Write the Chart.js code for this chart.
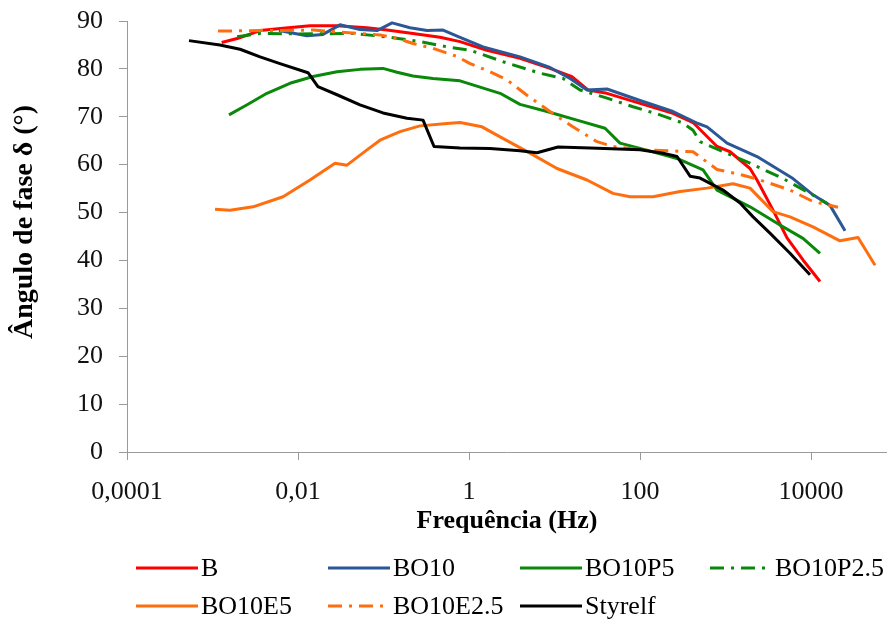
<!DOCTYPE html>
<html>
<head>
<meta charset="utf-8">
<script src="https://cdn.jsdelivr.net/npm/chart.js@4.4.0/dist/chart.umd.min.js"></script>
<style>
  html, body { margin: 0; padding: 0; background: #fff; }
  #wrap { width: 887px; height: 620px; }
</style>
</head>
<body>
<div id="wrap"><canvas id="chart" width="887" height="620"></canvas></div>
<script>
// frequência (Hz) e ângulo de fase (°) de cada amostra
const freqB = [0.00128, 0.00199, 0.0036, 0.00669, 0.0138, 0.0286, 0.0641, 0.110, 0.221, 0.458, 0.785, 1.62, 3.95, 8.85, 16.0, 24.6, 41.1, 100, 243, 417, 796, 1130, 1935, 2335, 3594, 5240, 8060, 12740];
const phaseB = [85.5, 86.4, 88.0, 88.5, 89.0, 89.0, 88.6, 88.1, 87.4, 86.6, 85.7, 83.9, 82.2, 80.1, 78.4, 75.6, 74.9, 72.8, 70.7, 68.8, 63.8, 62.7, 59.2, 56.8, 50.5, 44.7, 40.1, 35.6];

const freqBO10 = [0.0060, 0.0127, 0.0196, 0.0310, 0.0531, 0.0839, 0.126, 0.204, 0.323, 0.497, 0.785, 1.46, 3.95, 8.85, 15.2, 24.0, 41.1, 100, 243, 476, 608, 1042, 2335, 6150, 10550, 16680, 25000];
const phaseBO10 = [88.0, 86.9, 87.2, 89.2, 88.2, 88.0, 89.6, 88.6, 88.0, 88.1, 86.6, 84.6, 82.5, 80.3, 78.0, 75.6, 75.8, 73.4, 71.1, 68.6, 67.9, 64.5, 61.7, 57.1, 53.7, 51.5, 46.2];

const freqP5 = [0.00156, 0.00254, 0.00433, 0.00805, 0.0150, 0.0286, 0.0531, 0.0986, 0.144, 0.221, 0.379, 0.785, 2.31, 3.95, 8.17, 18.3, 39.0, 58.3, 100, 271, 546, 796, 1935, 4335, 8060, 12740];
const phaseP5 = [70.4, 72.5, 74.9, 77.0, 78.4, 79.4, 79.9, 80.1, 79.3, 78.5, 78.0, 77.5, 74.9, 72.6, 71.1, 69.3, 67.6, 64.5, 63.4, 61.3, 58.9, 54.7, 51.2, 47.4, 44.6, 41.5];

const freqP25 = [0.00194, 0.0036, 0.0105, 0.044, 0.0839, 0.129, 0.267, 0.553, 1.03, 2.50, 6.76, 12.6, 19.9, 41.1, 82.8, 171, 318, 417, 504, 935, 1935, 4710, 9730, 15380];
const phaseP25 = [86.7, 87.4, 87.3, 87.4, 86.9, 86.5, 85.7, 84.6, 83.9, 81.5, 79.1, 78.0, 75.6, 73.9, 72.1, 70.4, 68.7, 67.2, 64.8, 62.7, 60.3, 57.1, 54.0, 51.9];

const freqE5 = [0.00107, 0.0016, 0.00298, 0.00669, 0.0138, 0.0271, 0.0374, 0.0641, 0.091, 0.156, 0.267, 0.553, 0.785, 1.42, 2.31, 5.16, 10.7, 24.0, 48.3, 76.4, 142, 294, 608, 1224, 1935, 3594, 5680, 10550, 21800, 35480, 56100];
const phaseE5 = [50.7, 50.5, 51.2, 53.3, 56.8, 60.3, 59.9, 63.1, 65.1, 66.9, 68.1, 68.6, 68.8, 67.9, 65.8, 62.4, 59.2, 56.8, 54.0, 53.3, 53.3, 54.4, 55.1, 56.0, 55.1, 50.2, 49.1, 47.0, 44.1, 44.8, 39.0];

const freqE25 = [0.00116, 0.0036, 0.015, 0.0531, 0.091, 0.144, 0.221, 0.379, 0.724, 1.03, 1.76, 2.78, 4.77, 8.85, 16.4, 31.4, 48.3, 100, 417, 796, 1603, 2535, 5680, 10550, 20700];
const phaseE25 = [87.9, 88.0, 88.1, 87.4, 87.1, 86.4, 85.3, 84.3, 82.6, 81.1, 79.4, 77.7, 74.5, 71.1, 67.9, 64.8, 63.8, 63.1, 62.7, 59.0, 57.8, 56.8, 54.7, 52.3, 51.1];

const freqSty = [0.000531, 0.00122, 0.0021, 0.0036, 0.00615, 0.0131, 0.0171, 0.0286, 0.0531, 0.0986, 0.188, 0.290, 0.390, 0.785, 1.76, 3.95, 6.24, 11.0, 26.0, 100, 186, 271, 385, 504, 935, 1480, 2100, 3310, 5680, 9730];
const phaseSty = [85.9, 85.0, 84.1, 82.5, 81.1, 79.2, 76.3, 74.6, 72.5, 70.8, 69.7, 69.3, 63.8, 63.5, 63.4, 62.9, 62.5, 63.7, 63.5, 63.1, 62.4, 61.7, 57.6, 57.2, 54.7, 52.0, 49.1, 45.7, 41.5, 37.0];

const xTicks = [0.0001, 0.01, 1, 100, 10000];

const FONT = "'Liberation Serif', 'Times New Roman', serif";
const dashDot = [14, 7, 3, 7];

const series = [
    { label: 'B', x: freqB, y: phaseB, color: '#FF0000', dash: [] },
    { label: 'BO10', x: freqBO10, y: phaseBO10, color: '#2B5797', dash: [] },
    { label: 'BO10P5', x: freqP5, y: phaseP5, color: '#0A880A', dash: [] },
    { label: 'BO10P2.5', x: freqP25, y: phaseP25, color: '#0A880A', dash: dashDot },
    { label: 'BO10E5', x: freqE5, y: phaseE5, color: '#FF6E0E', dash: [] },
    { label: 'BO10E2.5', x: freqE25, y: phaseE25, color: '#FF6E0E', dash: dashDot },
    { label: 'Styrelf', x: freqSty, y: phaseSty, color: '#000000', dash: [] }
];

// legenda e títulos desenhados à mão, para ficarem no sítio certo
const legendCols = [136, 328, 520, 710];
const legendRows = [568, 606];

const extrasPlugin = {
    id: 'extras',
    afterDraw(chart) {
        const ctx = chart.ctx;
        const area = chart.chartArea;
        ctx.save();
        ctx.fillStyle = '#000';

        // título do eixo x
        ctx.font = 'bold 26px ' + FONT;
        ctx.textAlign = 'center';
        ctx.textBaseline = 'middle';
        ctx.fillText('Frequência (Hz)', (area.left + area.right) / 2, 521);

        // título do eixo y
        ctx.save();
        ctx.font = 'bold 28px ' + FONT;
        ctx.translate(25, 222);
        ctx.rotate(-Math.PI / 2);
        ctx.fillText('Ângulo de fase δ (°)', 0, 0);
        ctx.restore();

        // legenda
        ctx.font = '26px ' + FONT;
        ctx.textAlign = 'left';
        chart.data.datasets.forEach((ds, i) => {
            const col = i < 4 ? i : i - 4;
            const row = i < 4 ? 0 : 1;
            const x0 = legendCols[col];
            const y0 = legendRows[row];
            ctx.save();
            ctx.strokeStyle = ds.borderColor;
            ctx.lineWidth = 3;
            ctx.lineCap = 'butt';
            ctx.setLineDash(ds.borderDash);
            ctx.beginPath();
            ctx.moveTo(x0, y0);
            ctx.lineTo(x0 + 62, y0);
            ctx.stroke();
            ctx.restore();
            ctx.fillText(ds.label, x0 + 65, y0 + 1);
        });
        ctx.restore();
    }
};

new Chart(document.getElementById('chart'), {
    type: 'line',
    data: {
        datasets: series.map((s, i) => ({
            label: s.label,
            data: s.x.map((f, k) => ({ x: f, y: s.y[k] })),
            borderColor: s.color,
            backgroundColor: s.color,
            borderWidth: 3,
            borderDash: s.dash,
            borderCapStyle: 'butt',
            borderJoinStyle: 'round',
            pointRadius: 0,
            tension: 0,
            fill: false,
            order: series.length - i
        }))
    },
    options: {
        responsive: false,
        animation: false,
        devicePixelRatio: 1,
        layout: { padding: { top: 21, right: 0, left: 0, bottom: 0 } },
        plugins: {
            legend: { display: false },
            tooltip: { enabled: false }
        },
        scales: {
            x: {
                type: 'logarithmic',
                min: 0.0001,
                max: 77400,
                afterBuildTicks: (scale) => {
                    scale.ticks = xTicks.map(v => ({ value: v }));
                },
                afterFit: (scale) => {
                    scale.height = 168;
                    scale.paddingLeft = 0;
                    scale.paddingRight = 0;
                },
                ticks: {
                    autoSkip: false,
                    maxRotation: 0,
                    padding: 17,
                    color: '#111',
                    font: { family: FONT, size: 26 },
                    callback: (v) => String(v).replace('.', ',')
                },
                grid: { drawOnChartArea: false, drawTicks: true, tickLength: 8, color: '#9a9a9a' },
                border: { display: true, color: '#9a9a9a', width: 1 }
            },
            y: {
                min: 0,
                max: 90,
                afterFit: (scale) => {
                    scale.width = 127;
                    scale.paddingTop = 0;
                    scale.paddingBottom = 0;
                },
                ticks: {
                    stepSize: 10,
                    padding: 16,
                    color: '#111',
                    font: { family: FONT, size: 26 }
                },
                grid: { drawOnChartArea: false, drawTicks: true, tickLength: 8, color: '#9a9a9a' },
                border: { display: true, color: '#9a9a9a', width: 1 }
            }
        }
    },
    plugins: [extrasPlugin]
});
</script>
</body>
</html>
